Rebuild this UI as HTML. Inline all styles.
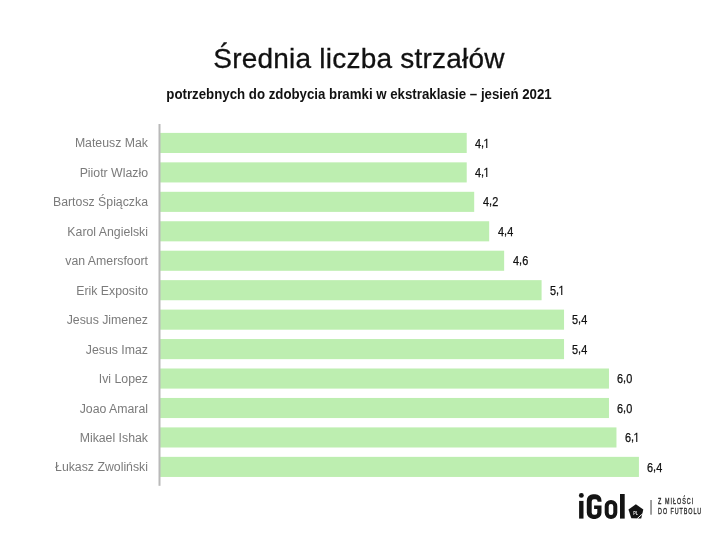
<!DOCTYPE html>
<html><head><meta charset="utf-8"><style>
html,body{margin:0;padding:0;background:#fff;}
body{width:720px;height:540px;position:relative;overflow:hidden;will-change:transform;font-family:"Liberation Sans",sans-serif;}
.title{position:absolute;width:720px;left:-1px;top:42px;text-align:center;font-size:28px;letter-spacing:0.22px;color:#111;-webkit-text-stroke:0.3px #111;line-height:34px;white-space:nowrap;}
.sub{position:absolute;left:0px;width:718px;top:85px;text-align:center;font-size:14px;font-weight:bold;color:#111;line-height:18px;white-space:nowrap;transform:scaleX(0.947);transform-origin:359px 0;}
.lab{position:absolute;right:572px;height:20px;line-height:20px;font-size:12.3px;color:#7b7b7b;white-space:nowrap;text-align:right;margin-top:0.6px;}
.val{position:absolute;height:20px;line-height:20px;font-size:12.4px;color:#111;letter-spacing:0.2px;-webkit-text-stroke:0.25px #111;white-space:nowrap;margin-top:0.7px;transform:scaleX(0.88);transform-origin:0 0;}
.one{display:inline-block;vertical-align:top;overflow:visible;fill:#111;margin-left:1px;}
.cm{position:relative;top:-1px;margin-left:-0.3px;}
</style></head><body>
<div class="title">Średnia liczba strzałów</div>
<div class="sub">potrzebnych do zdobycia bramki w ekstraklasie – jesień 2021</div>
<svg style="position:absolute;left:0;top:0" width="720" height="540" viewBox="0 0 720 540"><g fill="#bdeeb0"><rect x="160" y="132.90" width="306.72" height="20.1"/><rect x="160" y="162.35" width="306.72" height="20.1"/><rect x="160" y="191.80" width="314.20" height="20.1"/><rect x="160" y="221.25" width="329.18" height="20.1"/><rect x="160" y="250.70" width="344.15" height="20.1"/><rect x="160" y="280.15" width="381.59" height="20.1"/><rect x="160" y="309.60" width="404.05" height="20.1"/><rect x="160" y="339.05" width="404.05" height="20.1"/><rect x="160" y="368.50" width="448.97" height="20.1"/><rect x="160" y="397.95" width="448.97" height="20.1"/><rect x="160" y="427.40" width="456.46" height="20.1"/><rect x="160" y="456.85" width="478.92" height="20.1"/></g><rect x="158.5" y="124" width="2" height="361.8" fill="#b9b9b9"/></svg>
<div class="lab" style="top:132.90px">Mateusz Mak</div>
<div class="val" style="top:132.90px;left:475.12px">4<span class="cm">,</span><svg class="one" width="5" height="20" viewBox="0 0 5 20"><path d="M-0.5 6.4L2 4.8H3V13.9H1.7V6.2L-0.5 7.4Z"/></svg></div>
<div class="lab" style="top:162.35px">Piiotr Wlazło</div>
<div class="val" style="top:162.35px;left:475.12px">4<span class="cm">,</span><svg class="one" width="5" height="20" viewBox="0 0 5 20"><path d="M-0.5 6.4L2 4.8H3V13.9H1.7V6.2L-0.5 7.4Z"/></svg></div>
<div class="lab" style="top:191.80px">Bartosz Śpiączka</div>
<div class="val" style="top:191.80px;left:482.60px">4<span class="cm">,</span>2</div>
<div class="lab" style="top:221.25px">Karol Angielski</div>
<div class="val" style="top:221.25px;left:497.58px">4<span class="cm">,</span>4</div>
<div class="lab" style="top:250.70px">van Amersfoort</div>
<div class="val" style="top:250.70px;left:512.55px">4<span class="cm">,</span>6</div>
<div class="lab" style="top:280.15px">Erik Exposito</div>
<div class="val" style="top:280.15px;left:549.99px">5<span class="cm">,</span><svg class="one" width="5" height="20" viewBox="0 0 5 20"><path d="M-0.5 6.4L2 4.8H3V13.9H1.7V6.2L-0.5 7.4Z"/></svg></div>
<div class="lab" style="top:309.60px">Jesus Jimenez</div>
<div class="val" style="top:309.60px;left:572.45px">5<span class="cm">,</span>4</div>
<div class="lab" style="top:339.05px">Jesus Imaz</div>
<div class="val" style="top:339.05px;left:572.45px">5<span class="cm">,</span>4</div>
<div class="lab" style="top:368.50px">Ivi Lopez</div>
<div class="val" style="top:368.50px;left:617.37px">6<span class="cm">,</span>0</div>
<div class="lab" style="top:397.95px">Joao Amaral</div>
<div class="val" style="top:397.95px;left:617.37px">6<span class="cm">,</span>0</div>
<div class="lab" style="top:427.40px">Mikael Ishak</div>
<div class="val" style="top:427.40px;left:624.86px">6<span class="cm">,</span><svg class="one" width="5" height="20" viewBox="0 0 5 20"><path d="M-0.5 6.4L2 4.8H3V13.9H1.7V6.2L-0.5 7.4Z"/></svg></div>
<div class="lab" style="top:456.85px">Łukasz Zwoliński</div>
<div class="val" style="top:456.85px;left:647.32px">6<span class="cm">,</span>4</div>
<svg style="position:absolute;left:0;top:0" width="720" height="540" viewBox="0 0 720 540">
<g fill="#141414">
<circle cx="581.35" cy="495.4" r="2.45"/>
<rect x="579.1" y="500.9" width="4.4" height="17.7"/>
<path d="M601.5 501.7V500.5A6.2 6.2 0 0 0 595.3 494.3H593.0A6.2 6.2 0 0 0 586.8 500.5V512.69A6.2 6.2 0 0 0 593 518.9H595.3A6.2 6.2 0 0 0 601.5 512.69V505.6H594.1V509.1H597.3V512.59A2.2 2.2 0 0 1 595.09 514.8H593.90A2.2 2.2 0 0 1 591.7 512.59V501.5A2.2 2.2 0 0 1 593.90 499.3H595.4A2.2 2.2 0 0 1 597.6 501.5V501.7Z"/>
<rect x="606.7" y="502" width="8.6" height="15" rx="4.2" ry="4.2" fill="none" stroke="#141414" stroke-width="4"/>
<rect x="620" y="494" width="4.7" height="24.6"/>
<polygon points="635.90,504.20 643.32,509.59 641.2,518.6 631.32,518.31 628.48,509.59"/>
</g>
<line x1="637.2" y1="518.6" x2="642.6" y2="513.8" stroke="#fff" stroke-width="1"/>
<text x="633.2" y="514.7" font-family="Liberation Sans" font-weight="bold" font-size="5.9" fill="#e8e8e8" textLength="5" lengthAdjust="spacingAndGlyphs">PL</text>
<rect x="650.1" y="500" width="1.9" height="14.7" fill="#999"/>
<g font-family="Liberation Sans" font-size="8.4" fill="#2e2e2e" stroke="#2e2e2e" stroke-width="0.35">
<text transform="translate(658.1 504.4) scale(0.64 1)" textLength="54.8" lengthAdjust="spacing">Z MIŁOŚCI</text>
<text transform="translate(658.1 513.9) scale(0.64 1)" textLength="67.4" lengthAdjust="spacing">DO FUTBOLU</text>
</g>
</svg>
</body></html>
